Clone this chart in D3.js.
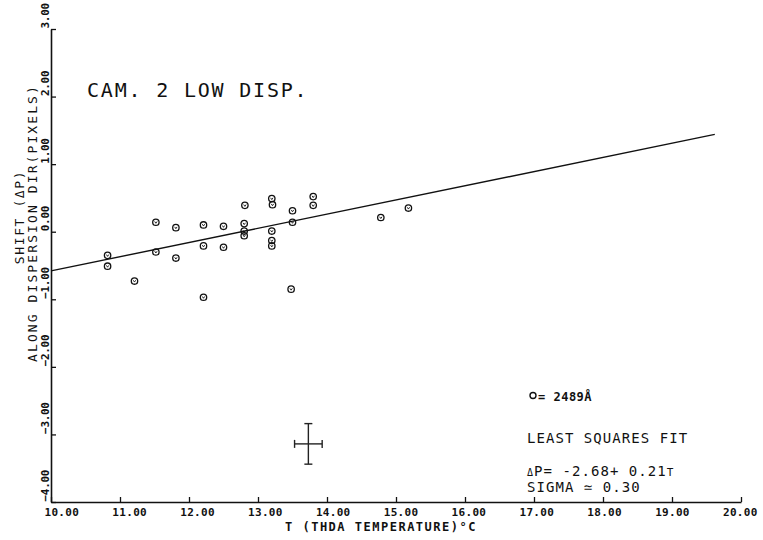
<!DOCTYPE html>
<html>
<head>
<meta charset="utf-8">
<script src="https://cdn.jsdelivr.net/npm/d3@7"></script>
<style>
  html, body { margin: 0; padding: 0; background: #fff; }
  svg { display: block; }
  text { font-family: "DejaVu Sans Mono", monospace; fill: #111; }
</style>
</head>
<body>
<script>
// ---- data ----
const temperatures = [10.82, 10.82, 11.21, 11.52, 11.52, 11.81, 11.81, 12.21, 12.21, 12.21,
                      12.50, 12.50, 12.81, 12.80, 12.80, 12.80, 13.20, 13.21, 13.20, 13.20,
                      13.20, 13.50, 13.50, 13.48, 13.80, 13.80, 14.78, 15.18];
const shifts       = [-0.35, -0.51, -0.73, 0.14, -0.30, 0.06, -0.39, 0.10, -0.21, -0.97,
                      0.08, -0.23, 0.39, 0.12, 0.01, -0.06, 0.49, 0.40, 0.01, -0.13,
                      -0.21, 0.31, 0.14, -0.85, 0.52, 0.39, 0.21, 0.35];
const xTicks = [10, 11, 12, 13, 14, 15, 16, 17, 18, 19, 20];
const yTicks = [-4, -3, -2, -1, 0, 1, 2, 3];
const fitIntercept = -2.68;
const fitSlope = 0.21;
const fitRange = [10, 19.62];
const errCenter = [13.73, -3.14];
const errHalf = [0.20, 0.30];   // [T, ΔP]

const W = 763, H = 540;
const svg = d3.select("body").append("svg").attr("width", W).attr("height", H);
svg.append("rect").attr("width", W).attr("height", H).attr("fill", "#fff");

const x = d3.scaleLinear().domain([10, 20]).range([51, 741]);
const y = d3.scaleLinear().domain([-4, 3]).range([502, 29]);

// x axis
const gx = svg.append("g").attr("transform", `translate(0,${y(-4)})`)
  .call(d3.axisBottom(x).tickValues(xTicks).tickSize(-5).tickSizeOuter(0).tickFormat(d3.format(".2f")));
gx.select(".domain").attr("stroke", "#111").attr("stroke-width", 1.6);
gx.selectAll(".tick line").attr("stroke", "#111").attr("stroke-width", 1.3);
gx.selectAll(".tick text")
  .attr("text-anchor", "start").attr("x", d => -7 - 1.15 * (d - 10)).attr("y", 13.5).attr("dy", 0)
  .style("font-family", "DejaVu Sans Mono").style("font-size", "11px").style("font-weight", "bold")
  .style("letter-spacing", "0.3px").attr("fill", "#111");

// y axis
const gy = svg.append("g").attr("transform", `translate(${x(10)},0)`)
  .call(d3.axisLeft(y).tickValues(yTicks).tickSize(-5).tickSizeOuter(0).tickFormat(d3.format(".2f")));
gy.select(".domain").attr("stroke", "#111").attr("stroke-width", 1.6);
gy.selectAll(".tick line").attr("stroke", "#111").attr("stroke-width", 1.3);
gy.selectAll(".tick text")
  .attr("text-anchor", "start").attr("x", 0).attr("dy", 0)
  .attr("transform", "translate(-2,-1) rotate(-90)")
  .style("font-family", "DejaVu Sans Mono").style("font-size", "11px").style("font-weight", "bold")
  .style("letter-spacing", "-0.3px").attr("fill", "#111");

// axis titles
svg.append("text").attr("transform", "translate(37,223) rotate(-90)")
  .attr("text-anchor", "middle").style("font-size", "13px").style("letter-spacing", "2.1px")
  .text("ALONG DISPERSION DIR(PIXELS)");
svg.append("text").attr("transform", "translate(24,217) rotate(-90)")
  .attr("text-anchor", "middle").style("font-size", "13px").style("letter-spacing", "1.6px")
  .text("SHIFT (ΔP)");
svg.append("text").attr("x", 285).attr("y", 531)
  .style("font-size", "12px").style("font-weight", "bold").style("letter-spacing", "1.5px")
  .text("T (THDA TEMPERATURE)°C");

// fit line
svg.append("line")
  .attr("x1", x(fitRange[0])).attr("y1", y(fitIntercept + fitSlope * fitRange[0]))
  .attr("x2", x(fitRange[1])).attr("y2", y(fitIntercept + fitSlope * fitRange[1]))
  .attr("stroke", "#111").attr("stroke-width", 1.4);

// data points
const pts = temperatures.map((t, i) => ({ t, p: shifts[i] }));
const g = svg.append("g");
g.selectAll("circle").data(pts).enter().append("circle")
  .attr("cx", d => x(d.t)).attr("cy", d => y(d.p)).attr("r", 3.2)
  .attr("fill", "none").attr("stroke", "#111").attr("stroke-width", 1.3);
g.selectAll("path").data(pts).enter().append("path")
  .attr("d", d => `M${x(d.t) - 1.2},${y(d.p) - 0.8} L${x(d.t)},${y(d.p) + 1} L${x(d.t) + 1.2},${y(d.p) - 0.8}`)
  .attr("fill", "none").attr("stroke", "#111").attr("stroke-width", 0.9);

// error cross
const ex = x(errCenter[0]), ey = y(errCenter[1]);
const eg = svg.append("g").attr("stroke", "#222").attr("stroke-width", 1.4);
eg.append("line").attr("x1", ex).attr("x2", ex).attr("y1", y(errCenter[1] + errHalf[1])).attr("y2", y(errCenter[1] - errHalf[1]));
eg.append("line").attr("x1", x(errCenter[0] - errHalf[0])).attr("x2", x(errCenter[0] + errHalf[0])).attr("y1", ey).attr("y2", ey);
[errCenter[1] + errHalf[1], errCenter[1] - errHalf[1]].forEach(v =>
  eg.append("line").attr("x1", ex - 4).attr("x2", ex + 4).attr("y1", y(v)).attr("y2", y(v)));
[errCenter[0] - errHalf[0], errCenter[0] + errHalf[0]].forEach(v =>
  eg.append("line").attr("x1", x(v)).attr("x2", x(v)).attr("y1", ey - 4).attr("y2", ey + 4));

// title
svg.append("text").attr("x", 87).attr("y", 97)
  .style("font-size", "20px").style("letter-spacing", "1.8px")
  .text("CAM. 2 LOW DISP.");

// legend
svg.append("circle").attr("cx", 533).attr("cy", 395.5).attr("r", 3)
  .attr("fill", "none").attr("stroke", "#111").attr("stroke-width", 1.4);
svg.append("text").attr("x", 538).attr("y", 400.5)
  .style("font-size", "12px").style("font-weight", "bold").style("letter-spacing", "0.5px")
  .text("= 2489Å");

svg.append("text").attr("x", 527).attr("y", 443)
  .style("font-size", "14px").style("letter-spacing", "1.05px")
  .text("LEAST SQUARES FIT");
const eq = svg.append("text").attr("x", 527).attr("y", 476)
  .style("font-size", "14px").style("letter-spacing", "1.05px");
eq.append("tspan").style("font-size", "10px").text("Δ");
eq.append("tspan").text(`P= ${fitIntercept.toFixed(2)}+ ${fitSlope.toFixed(2)}`);
eq.append("tspan").style("font-size", "11px").text("T");
svg.append("text").attr("x", 527).attr("y", 492)
  .style("font-size", "14px").style("letter-spacing", "1.05px")
  .text("SIGMA ≃ 0.30");
</script>
</body>
</html>
